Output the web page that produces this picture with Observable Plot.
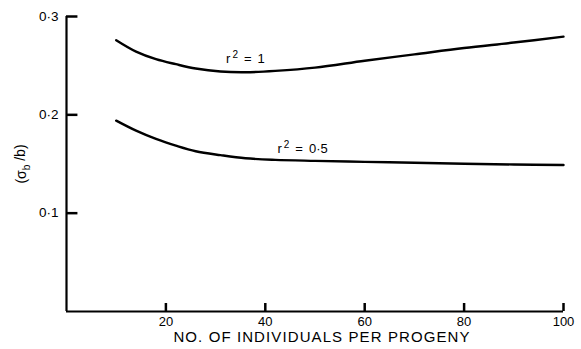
<!DOCTYPE html>
<html>
<head>
<meta charset="utf-8">
<script src="https://cdn.jsdelivr.net/npm/d3@7"></script>
<script src="https://cdn.jsdelivr.net/npm/@observablehq/plot@0.6"></script>
<style>
  html, body { margin: 0; padding: 0; background: #fff; }
  svg { display: block; }
</style>
</head>
<body>
<div id="chart"></div>
<script>
// Data
const individuals = [10, 14, 18, 22, 26, 31, 36, 42, 50, 60, 70, 80, 90, 100];
const r2_1   = [0.2759, 0.2643, 0.2566, 0.2515, 0.2471, 0.2440, 0.2433, 0.2447, 0.2480, 0.2550, 0.2615, 0.2680, 0.2735, 0.2795];
const r2_05  = [0.1941, 0.1839, 0.1755, 0.1687, 0.1630, 0.1590, 0.1558, 0.1542, 0.1532, 0.1522, 0.1512, 0.1502, 0.1495, 0.1490];
const xTicks = [20, 40, 60, 80, 100];
const yTicks = [0.1, 0.2, 0.3];
const xLabel = "NO. OF INDIVIDUALS PER PROGENY";
const seriesLabels = [
  {x: 36.0, y: 0.2565, base: "r", sup: "2", value: "1"},
  {x: 47.5, y: 0.1650, base: "r", sup: "2", value: "0·5"}
];

const rows = [];
individuals.forEach((n, i) => {
  rows.push({n, v: r2_1[i], s: "r2=1"});
  rows.push({n, v: r2_05[i], s: "r2=0.5"});
});

const font = "'Liberation Sans', Arial, Helvetica, sans-serif";

const chart = Plot.plot({
  width: 581,
  height: 349,
  marginLeft: 66,
  marginRight: 18,
  marginTop: 16,
  marginBottom: 38,
  style: {fontFamily: font, fontSize: "13px", color: "#000", background: "#fff"},
  x: {domain: [0, 100]},
  y: {domain: [0, 0.3]},
  marks: [
    // axis lines
    Plot.ruleX([0], {y1: 0, y2: 0.3, stroke: "#000", strokeWidth: 2.2}),
    Plot.ruleY([0], {x1: 0, x2: 100, stroke: "#000", strokeWidth: 2.2}),
    // inward ticks
    Plot.ruleY(yTicks, {x1: 0, x2: 2.3, stroke: "#000", strokeWidth: 2.5}),
    Plot.axisX(xTicks, {tickSize: 8, dy: -8, tickFormat: () => "", label: null, stroke: "#000", strokeWidth: 2.5}),
    // tick labels
    Plot.axisY({
      ticks: yTicks, tickSize: 0, tickPadding: 8,
      tickFormat: d => d.toFixed(1).replace(".", "·"),
      label: "(σb/b)", labelAnchor: "center", labelOffset: 50, labelArrow: "none",
      fontSize: 13.5
    }),
    Plot.axisX({
      ticks: xTicks, tickSize: 0, tickPadding: 5,
      label: null, fontSize: 13
    }),
    Plot.text([xLabel], {
      frameAnchor: "bottom", dx: 7, dy: 30, fontSize: 15, fill: "#000", className: "xlabel"
    }),
    // curves
    Plot.line(rows, {x: "n", y: "v", z: "s", curve: "catmull-rom", stroke: "#000", strokeWidth: 2.4}),
    Plot.text(seriesLabels, {x: "x", y: "y", text: d => `${d.base}${d.sup} = ${d.value}`, fontSize: 13, fill: "#000", className: "serieslabel"})
  ]
});

// subscript b in the y label
d3.select(chart).selectAll("g[aria-label='y-axis label'] text").each(function() {
  const t = d3.select(this);
  t.text(null);
  t.append("tspan").text("(σ");
  t.append("tspan").attr("dy", "0.35em").attr("font-size", "10px").text("b");
  t.append("tspan").attr("dy", "-0.35em").text(" /b)");
  t.attr("font-size", "14px");
});

// wider lettering of the x-axis title
d3.select(chart).selectAll("g.xlabel text").attr("letter-spacing", "1.1px");

// superscript and spacing in the series labels
d3.select(chart).selectAll("g.serieslabel text").each(function(_, i) {
  const d = seriesLabels[i];
  const t = d3.select(this);
  t.text(null);
  t.append("tspan").text(d.base);
  t.append("tspan").attr("dx", "2").attr("dy", "-5").attr("font-size", "10px").text(d.sup);
  t.append("tspan").attr("dx", "6").attr("dy", "5").text("=");
  t.append("tspan").attr("dx", "6").text(d.value);
});

document.getElementById("chart").appendChild(chart);
</script>
</body>
</html>
